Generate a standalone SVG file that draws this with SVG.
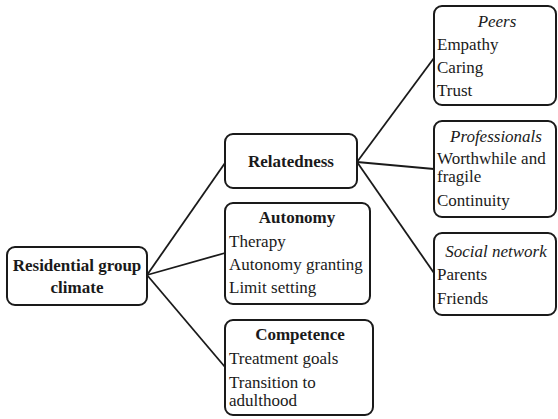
<svg xmlns="http://www.w3.org/2000/svg" width="558" height="419" viewBox="0 0 558 419">
<style>
.box{fill:#fff;stroke:#1a1a1a;stroke-width:2}
.t{font-family:'Liberation Serif','DejaVu Serif',serif;font-size:17px;fill:#1a1a1a}
.b{font-weight:bold;text-anchor:middle}
.i{font-style:italic;text-anchor:middle}
.edge{stroke:#1a1a1a;stroke-width:1.8;fill:none}
</style>
<rect width="558" height="419" fill="#fff"/>
<g id="connectors">
<line class="edge" x1="147" y1="275" x2="225" y2="163"/>
<line class="edge" x1="147" y1="275" x2="225" y2="253"/>
<line class="edge" x1="147" y1="275" x2="225" y2="367"/>
<line class="edge" x1="357" y1="162" x2="434" y2="58"/>
<line class="edge" x1="357" y1="162" x2="434" y2="169"/>
<line class="edge" x1="357" y1="162" x2="434" y2="273"/>
</g>
<g id="residential">
<rect class="box" x="7" y="247" width="140" height="58" rx="8"/>
<text class="t b" x="77" y="271">Residential group</text>
<text class="t b" x="77" y="293">climate</text>
</g>
<g id="relatedness">
<rect class="box" x="225" y="134" width="132" height="54" rx="8"/>
<text class="t b" x="291" y="167">Relatedness</text>
</g>
<g id="autonomy">
<rect class="box" x="225" y="203" width="145" height="101" rx="8"/>
<text class="t b" x="297" y="223">Autonomy</text>
<text class="t" x="229" y="247">Therapy</text>
<text class="t" x="229" y="270">Autonomy granting</text>
<text class="t" x="229" y="293">Limit setting</text>
</g>
<g id="competence">
<rect class="box" x="225" y="320" width="148" height="95" rx="8"/>
<text class="t b" x="300" y="340">Competence</text>
<text class="t" x="229" y="364">Treatment goals</text>
<text class="t" x="229" y="388">Transition to</text>
<text class="t" x="229" y="406">adulthood</text>
</g>
<g id="peers">
<rect class="box" x="434" y="6" width="122" height="99" rx="8"/>
<text class="t i" x="497" y="27">Peers</text>
<text class="t" x="437" y="50">Empathy</text>
<text class="t" x="437" y="73">Caring</text>
<text class="t" x="437" y="96">Trust</text>
</g>
<g id="professionals">
<rect class="box" x="434" y="121" width="122" height="96" rx="8"/>
<text class="t i" x="496" y="142">Professionals</text>
<text class="t" x="437" y="164">Worthwhile and</text>
<text class="t" x="437" y="182">fragile</text>
<text class="t" x="437" y="206">Continuity</text>
</g>
<g id="social">
<rect class="box" x="434" y="233" width="122" height="82" rx="8"/>
<text class="t i" x="496" y="257">Social network</text>
<text class="t" x="437" y="280">Parents</text>
<text class="t" x="437" y="304">Friends</text>
</g>
</svg>
